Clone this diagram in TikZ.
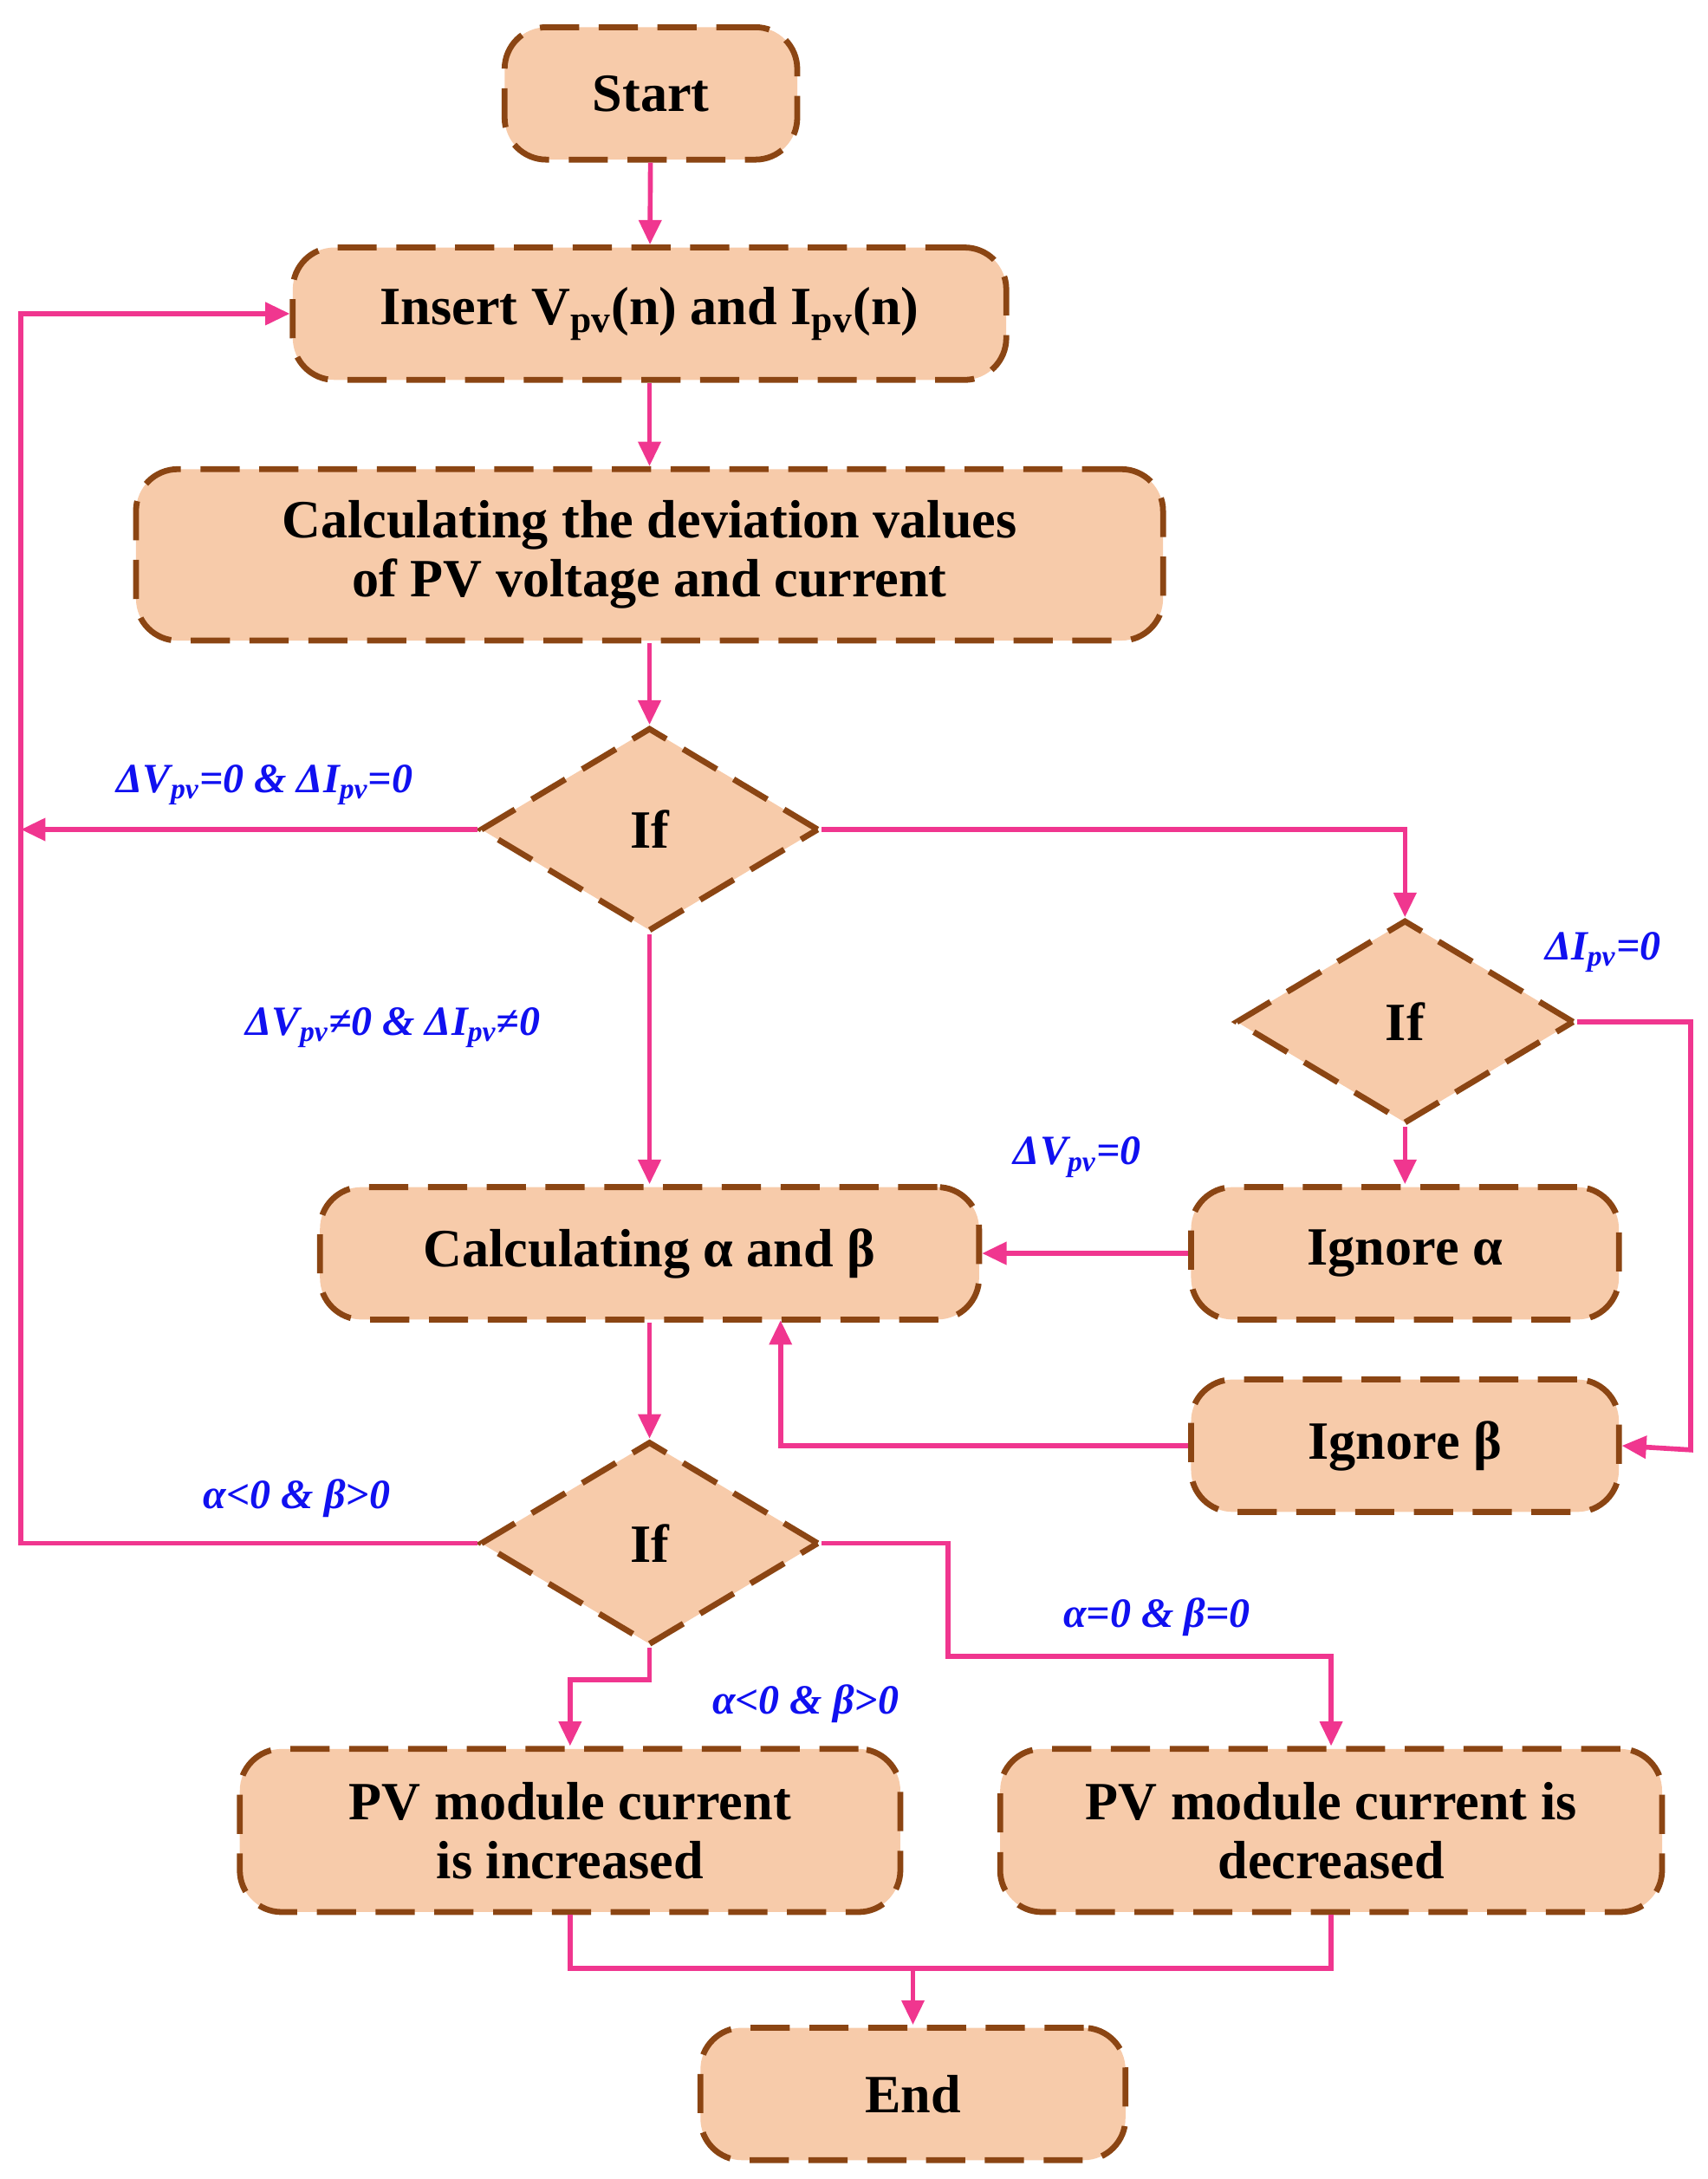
\documentclass[tikz,border=0pt]{standalone}
\usepackage{fontspec}
\setmainfont{Liberation Serif}
\usetikzlibrary{shapes.geometric,arrows.meta}
\definecolor{peach}{HTML}{F7CBAA}
\definecolor{brn}{HTML}{8B4513}
\definecolor{pnk}{HTML}{F0368F}
\definecolor{lblue}{HTML}{1010F0}
\tikzset{
  px/.style={x=0.02cm,y=-0.02cm},
  box/.style={draw=brn,fill=peach,line width=2.4pt,dash pattern=on 16pt off 8pt,rounded corners=0.6cm,font=\bfseries\fontsize{22}{24}\selectfont,align=center,inner sep=0pt},
  dia/.style={diamond,draw=brn,fill=peach,line width=2.4pt,dash pattern=on 16pt off 8pt,aspect=1.66,minimum width=4.86cm,minimum height=2.92cm,inner sep=0pt,font=\bfseries\fontsize{22}{24}\selectfont},
  con/.style={draw=pnk,line width=2pt,-{Triangle[length=10pt,width=9pt]}},
  lin/.style={draw=pnk,line width=2pt},
  lab/.style={text=lblue,font=\bfseries\itshape\fontsize{17}{19}\selectfont,inner sep=0pt}
}
\begin{document}
\begin{tikzpicture}[px]
\useasboundingbox (0,0) rectangle (1225,1563);
\node[box,minimum width=4.2cm,minimum height=1.9cm] (start) at (467,67) {Start};
\node[box,minimum width=10.24cm,minimum height=1.9cm] (ins) at (466,225) {Insert V\textsubscript{pv}(n) and I\textsubscript{pv}(n)};
\node[box,minimum width=14.74cm,minimum height=2.46cm] (dev) at (466,398) {Calculating the deviation values\\of PV voltage and current};
\node[dia] (if1) at (466,595) {If};
\node[dia] (if2) at (1008,733) {If};
\node[box,minimum width=9.46cm,minimum height=1.9cm] (ab) at (466,899) {Calculating α and β};
\node[box,minimum width=6.14cm,minimum height=1.9cm] (iga) at (1008,899) {Ignore α};
\node[box,minimum width=6.14cm,minimum height=1.9cm] (igb) at (1008,1037) {Ignore β};
\node[dia] (if3) at (466,1107) {If};
\node[box,minimum width=9.48cm,minimum height=2.34cm] (inc) at (409,1313) {PV module current\\is increased};
\node[box,minimum width=9.5cm,minimum height=2.34cm] (dec) at (955,1313) {PV module current is\\decreased};
\node[box,minimum width=6.1cm,minimum height=1.9cm] (end) at (655,1502) {End};
\coordinate (L1) at (15,595);
\coordinate (L3) at (15,1107);
\coordinate (L0) at (15,225);
\coordinate (B) at (655,1412);
\draw[con] (start) -- (ins);
\draw[con] (ins) -- (dev);
\draw[con] (dev) -- (if1);
\draw[con] (if1.west) -- (L1);
\draw[con] (if3.west) -- (L3) -- (L0) -- (ins.west);
\draw[con] (if1.east) -| (if2.north);
\draw[con] (if1.south) -- (ab.north);
\draw[con] (if2.east) -- (1213,733) -- (1213,1040) -- (igb.east);
\draw[con] (if2.south) -- (iga.north);
\draw[con] (iga.west) -- (ab.east);
\draw[con] (igb.west) -| (560,947);
\draw[con] (ab.south) -- (if3.north);
\draw[con] (if3.south) -- (466,1205) -| (inc.north);
\draw[con] (if3.east) -- (680,1107) -- (680,1188) -| (dec.north);
\draw[lin] (inc.south) |- (B) -| (dec.south);
\draw[con] (B) -- (end.north);
\node[lab] (t1) at (190,563) {ΔV\textsubscript{pv}=0 \& ΔI\textsubscript{pv}=0};
\node[lab] (t2) at (282,737) {ΔV\textsubscript{pv}≠0 \& ΔI\textsubscript{pv}≠0};
\node[lab] (t3) at (1150,683) {ΔI\textsubscript{pv}=0};
\node[lab] (t4) at (773,830) {ΔV\textsubscript{pv}=0};
\node[lab] (t5) at (213,1075) {α<0 \& β>0};
\node[lab] (t6) at (578,1222) {α<0 \& β>0};
\node[lab] (t7) at (830,1160) {α=0 \& β=0};
\end{tikzpicture}
\end{document}
